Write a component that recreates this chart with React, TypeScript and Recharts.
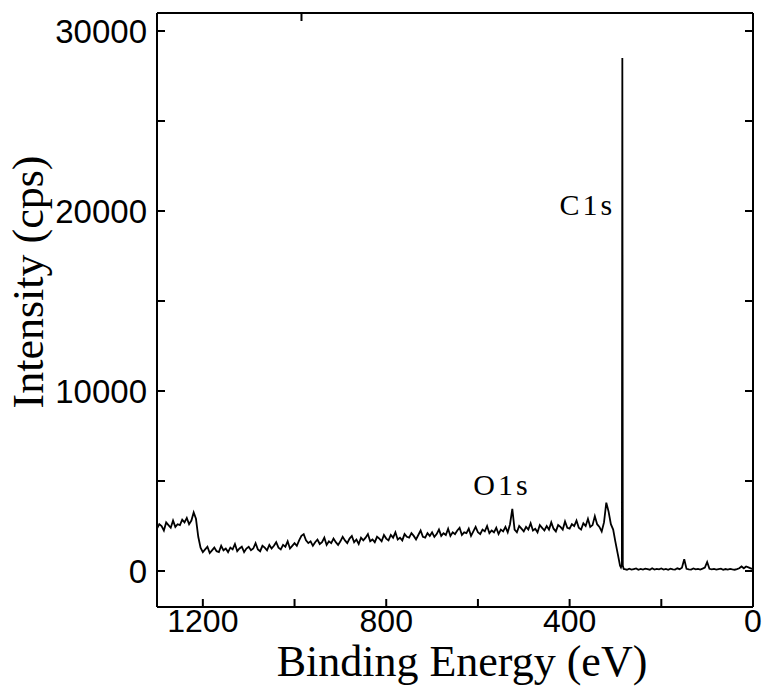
import React from 'react';
import { LineChart, Line, XAxis, YAxis, ReferenceDot } from 'recharts';

// Survey region sampled every 5 eV, from 1300 eV down to 290 eV
const surveyStartEV = 1300;
const surveyStepEV = 5;
const backgroundCounts = [
  2350, 2600, 2500, 2250, 2700, 2550, 2400, 2800, 2450, 2600,
  2550, 2850, 2700, 2950, 2600, 2800, 3250, 2900, 1900, 1300,
  1050, 1200, 1350, 1000, 1150, 1300, 1100, 1050, 1400, 1150,
  1250, 1050, 1300, 1200, 1500, 1100, 1250, 1350, 1050, 1250,
  1350, 1150, 1250, 1550, 1200, 1100, 1400, 1300, 1150, 1450,
  1250, 1400, 1600, 1300, 1200, 1450, 1350, 1650, 1250, 1400,
  1550, 1400, 1700, 1950, 2050, 1700, 1550, 1650, 1400, 1600,
  1750, 1500, 1600, 1850, 1450, 1650, 1550, 1800, 1600, 1450,
  1650, 1900, 1700, 1550, 1800, 1950, 1600, 1750, 1500, 1850,
  1700, 1850, 2050, 1650, 1750, 1600, 1900, 1800, 1650, 2000,
  1800, 1700, 2000, 1850, 2150, 1750, 1850, 1700, 2050, 1900,
  1850, 2100, 1950, 1750, 2000, 2250, 1900, 1850, 2100, 1950,
  2150, 1900, 2050, 2300, 1950, 2100, 2000, 2350, 1950, 2150,
  2050, 2250, 2400, 2000, 2150, 2100, 2350, 1950, 2200, 2450,
  2150, 2050, 2300, 2200, 2500, 2100, 2250, 2150, 2400, 2050,
  2300, 2200, 2450, 2150, 2600, 3450, 2300, 2150, 2500, 2350,
  2200, 2450, 2300, 2650, 2250, 2350, 2150, 2550, 2400, 2250,
  2500, 2300, 2700, 2350, 2200, 2550, 2450, 2300, 2750, 2400,
  2350, 2600, 2500, 2800, 2400, 2300, 2650, 2500, 2900, 2450,
  2550, 3050, 2600, 2450, 2200, 2700, 3800, 3300, 2600, 2300,
  1600, 950, 300,
];

// C1s main line, fine sampling
const c1sEnergy = [288, 286, 285, 284, 282];
const c1sCounts = [200, 350, 28500, 300, 110];

// Low binding energy region sampled every 5 eV, from 280 eV down to 0 eV
const valenceStartEV = 280;
const valenceCounts = [
  100, 70, 130, 80, 110, 140, 70, 120, 80, 130,
  100, 70, 150, 80, 120, 90, 140, 80, 120, 70,
  130, 90, 80, 150, 100, 180, 650, 120, 90, 80,
  140, 90, 120, 80, 130, 190, 500, 120, 90, 120,
  80, 110, 130, 70, 110, 80, 120, 90, 70, 100,
  150, 250, 150, 250, 200, 150, 100,
];

const xTicks = [0, 200, 400, 600, 800, 1000, 1200];
const xLabelTicks = [0, 400, 800, 1200];
const yTicks = [0, 5000, 10000, 15000, 20000, 25000, 30000];
const yLabelTicks = [0, 10000, 20000, 30000];

const peakLabels = [
  { name: 'C1s', energy: 422, counts: 19800 },
  { name: 'O1s', energy: 610, counts: 4250 },
];

const data = [
  ...backgroundCounts.map((c, i) => ({ energy: surveyStartEV - i * surveyStepEV, counts: c })),
  ...c1sEnergy.map((e, i) => ({ energy: e, counts: c1sCounts[i] })),
  ...valenceCounts.map((c, i) => ({ energy: valenceStartEV - i * surveyStepEV, counts: c })),
];

const SANS = "'Liberation Sans', Arial, sans-serif";
const SERIF = "'Liberation Serif', 'Times New Roman', serif";
const TICK_LEN = 8;

const BottomTick = (props: any) => {
  const { x, y, payload } = props;
  const v = payload.value;
  return (
    <g>
      <line x1={x} y1={y} x2={x} y2={y - TICK_LEN} stroke="#000" strokeWidth={2} />
      {xLabelTicks.includes(v) && (
        <text x={x} y={y + 25} textAnchor="middle" fontFamily={SANS} fontSize={32} fill="#000">
          {v}
        </text>
      )}
    </g>
  );
};

const TopTick = (props: any) => {
  const { x, y } = props;
  return <line x1={x} y1={y} x2={x} y2={y + TICK_LEN} stroke="#000" strokeWidth={2} />;
};

const LeftTick = (props: any) => {
  const { x, y, payload } = props;
  const v = payload.value;
  return (
    <g>
      <line x1={x} y1={y} x2={x + TICK_LEN} y2={y} stroke="#000" strokeWidth={2} />
      {yLabelTicks.includes(v) && (
        <text x={x - 10} y={y + 12} textAnchor="end" fontFamily={SANS} fontSize={33} fill="#000">
          {v}
        </text>
      )}
    </g>
  );
};

const RightTick = (props: any) => {
  const { x, y } = props;
  return <line x1={x} y1={y} x2={x - TICK_LEN} y2={y} stroke="#000" strokeWidth={2} />;
};

const XTitle = (props: any) => {
  const vb = props.viewBox || {};
  return (
    <text x={vb.x + vb.width / 2 + 7} y={vb.y + 69} textAnchor="middle" fontFamily={SERIF} fontSize={44} fill="#000">
      Binding Energy (eV)
    </text>
  );
};

const YTitle = (props: any) => {
  const vb = props.viewBox || {};
  const cx = 43;
  const cy = vb.y + vb.height / 2 - 28;
  return (
    <text x={cx} y={cy} transform={`rotate(-90, ${cx}, ${cy})`} textAnchor="middle" fontFamily={SERIF} fontSize={44} fill="#000">
      Intensity (cps)
    </text>
  );
};

const PeakText = (text: string) => (props: any) => {
  const vb = props.viewBox || {};
  return (
    <text x={vb.x} y={vb.y} textAnchor="start" fontFamily={SERIF} fontSize={30} letterSpacing={3} fill="#000">
      {text}
    </text>
  );
};

export default function App() {
  return (
    <div style={{ position: 'absolute', left: 0, top: 0, background: '#fff' }}>
      <LineChart width={766} height={693} data={data} margin={{ top: 0, right: 0, bottom: 0, left: 0 }}>
        <XAxis
          xAxisId="b"
          dataKey="energy"
          type="number"
          domain={[0, 1300]}
          reversed
          allowDataOverflow
          ticks={xTicks}
          interval={0}
          height={86}
          tickSize={0}
          tickMargin={0}
          tickLine={false}
          axisLine={{ stroke: '#000', strokeWidth: 2 }}
          tick={<BottomTick />}
          label={XTitle}
        />
        <XAxis
          xAxisId="t"
          orientation="top"
          type="number"
          domain={[0, 1300]}
          reversed
          allowDataOverflow
          ticks={xTicks}
          interval={0}
          height={13}
          tickSize={0}
          tickMargin={0}
          tickLine={false}
          axisLine={{ stroke: '#000', strokeWidth: 2 }}
          tick={<TopTick />}
        />
        <YAxis
          yAxisId="l"
          type="number"
          domain={[-2000, 31000]}
          allowDataOverflow
          ticks={yTicks}
          interval={0}
          width={157}
          tickSize={0}
          tickMargin={0}
          tickLine={false}
          axisLine={{ stroke: '#000', strokeWidth: 2 }}
          tick={<LeftTick />}
          label={YTitle}
        />
        <YAxis
          yAxisId="r"
          orientation="right"
          type="number"
          domain={[-2000, 31000]}
          allowDataOverflow
          ticks={yTicks}
          interval={0}
          width={13}
          tickSize={0}
          tickMargin={0}
          tickLine={false}
          axisLine={{ stroke: '#000', strokeWidth: 2 }}
          tick={<RightTick />}
        />
        <Line
          xAxisId="b"
          yAxisId="l"
          type="linear"
          dataKey="counts"
          stroke="#000"
          strokeWidth={1.8}
          dot={false}
          isAnimationActive={false}
        />
        {peakLabels.map((p) => (
          <ReferenceDot
            key={p.name}
            xAxisId="b"
            yAxisId="l"
            x={p.energy}
            y={p.counts}
            r={0}
            fill="none"
            stroke="none"
            label={PeakText(p.name)}
          />
        ))}
      </LineChart>
    </div>
  );
}
